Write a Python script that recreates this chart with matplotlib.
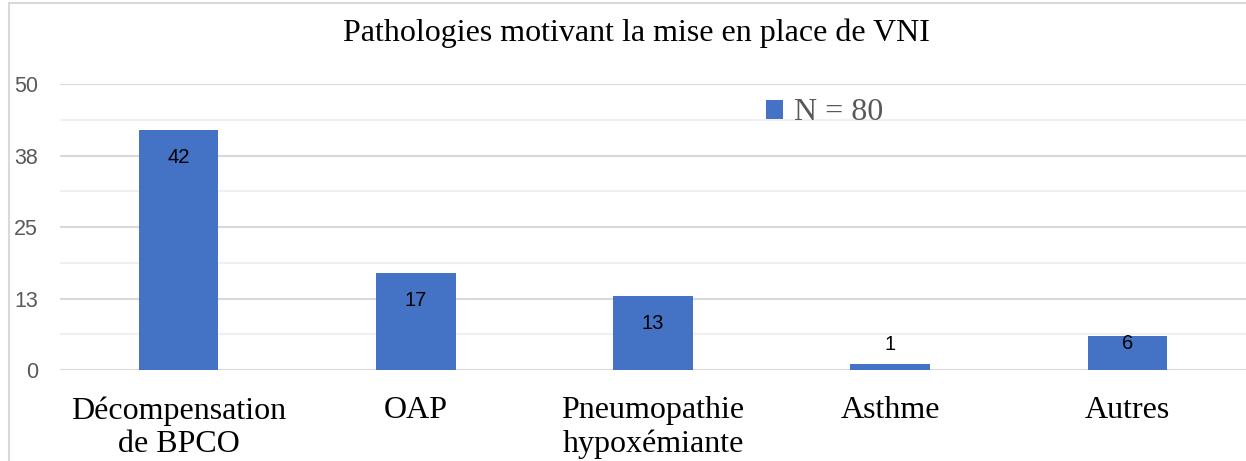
import matplotlib.pyplot as plt
from matplotlib.patches import Rectangle

# data
categories = ["Décompensation\nde BPCO", "OAP", "Pneumopathie\nhypoxémiante", "Asthme", "Autres"]
counts = [42, 17, 13, 1, 6]
tick_values = [0, 12.5, 25, 37.5, 50]
tick_labels = ["0", "13", "25", "38", "50"]

W, H = 1246, 461
fig = plt.figure(figsize=(W / 100, H / 100), dpi=100)
ax = fig.add_axes([60 / W, (H - 370) / H, 1 - 60 / W, (370 - 84) / H])

# light chart border (top and left)
fig.add_artist(Rectangle((9 / W, -0.1), 1.2, 1.1 - 3 / H, transform=fig.transFigure,
                         fill=False, edgecolor='#d9d9d9', linewidth=1.5, zorder=0))

x = list(range(len(categories)))
bars = ax.bar(x, counts, width=0.335, color='#4472C4', label='N = 80', zorder=3)

ax.set_xlim(-0.5, len(categories) - 0.5)
ax.set_ylim(0, 50)
ax.set_yticks(tick_values)
ax.set_yticklabels(tick_labels, fontsize=15.5, color='#595959', family='Liberation Sans')
ax.set_yticks([6.25, 18.75, 31.25, 43.75], minor=True)
ax.grid(axis='y', which='major', color='#d9d9d9', linewidth=1.5, zorder=0)
ax.grid(axis='y', which='minor', color='#f0f0f0', linewidth=1.5, zorder=0)
ax.tick_params(axis='y', which='both', length=0, pad=16)
ax.tick_params(axis='x', length=0, pad=19)
ax.set_xticks(x)
ax.set_xticklabels(categories, fontsize=23, family='Liberation Serif', linespacing=1.2)
for s in ax.spines.values():
    s.set_visible(False)

# value labels (inside the top of the bar, above it when the bar is too short)
for b, v in zip(bars, counts):
    if v >= 10:
        dy = -28
    elif v >= 5:
        dy = -8
    else:
        dy = 20
    ax.annotate(str(v), (b.get_x() + b.get_width() / 2, v), xytext=(0, dy),
                textcoords='offset pixels', ha='center', va='center',
                fontsize=14.5, family='Liberation Sans', zorder=4)

fig.text(636 / W, 1 - 33 / H, "Pathologies motivant la mise en place de VNI",
         ha='center', va='center', fontsize=23, family='Liberation Serif')

leg = ax.legend(loc='center left', bbox_to_anchor=(737 / W, 1 - 113 / H),
                bbox_transform=fig.transFigure, frameon=False,
                handlelength=0.55, handleheight=0.55, handletextpad=0.35,
                prop={'family': 'Liberation Serif', 'size': 23})
for t in leg.get_texts():
    t.set_color('#595959')

fig.savefig('out.png', dpi=100)
